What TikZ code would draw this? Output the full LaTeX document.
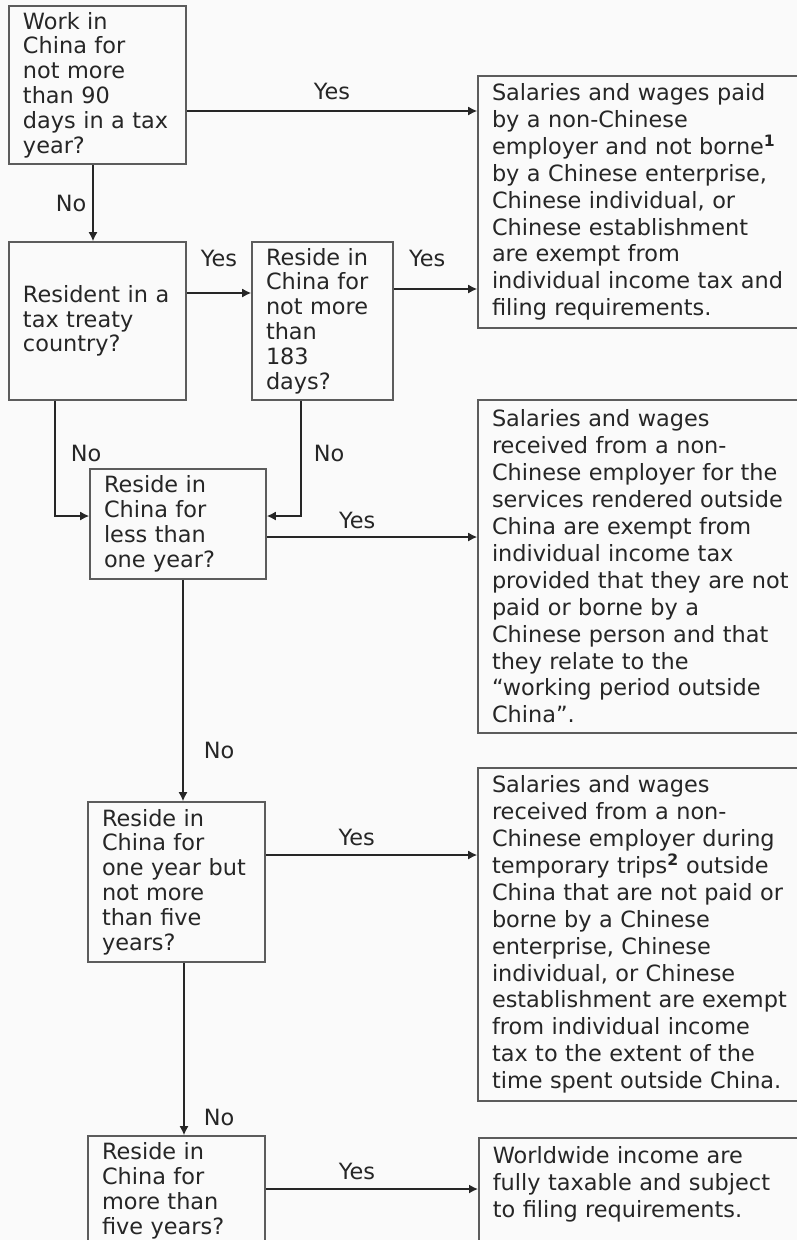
\documentclass[tikz,border=0pt]{standalone}
\usepackage{fontspec}
\setmainfont{DejaVu Sans}
\usetikzlibrary{arrows.meta}
\definecolor{inkgray}{HTML}{262626}
\definecolor{boxgray}{HTML}{5C5C5C}

\begin{document}
\begin{tikzpicture}[x=1pt, y=-1pt,
  every node/.style={text=inkgray},
  query/.style={draw=boxgray, line width=1.6pt, inner xsep=14pt, inner ysep=0pt,
    align=left, font=\fontsize{22.4}{24.8}\selectfont},
  outcome/.style={draw=boxgray, line width=1.6pt, inner xsep=14pt, inner ysep=0pt,
    align=left, text width=312pt, font=\fontsize{22.4}{26.9}\selectfont},
  answer/.style={inner sep=0pt, font=\fontsize{22.4}{24.8}\selectfont},
  flow/.style={draw=inkgray, line width=1.5pt, -{Latex[length=9pt,width=9pt]}}]
  \path[use as bounding box, fill=black!2] (0,0) rectangle (797,1240);

  \node[query, text width=149pt, minimum height=158pt] (work90) at (97.5,85)
    {Work in\\China for\\not more\\than 90\\days in a tax\\year?};
  \node[query, text width=149pt, minimum height=158pt] (treaty) at (97.5,321)
    {Resident in a\\tax treaty\\country?};
  \node[query, text width=113pt, minimum height=158pt] (stay183) at (322.5,321)
    {Reside in\\China for\\not more\\than\\183\\days?};
  \node[query, text width=148pt, minimum height=110pt] (lessone) at (178,524)
    {Reside in\\China for\\less than\\one year?};
  \node[query, text width=149pt, minimum height=160pt] (uptofive) at (176.5,882)
    {Reside in\\China for\\one year but\\not more\\than five\\years?};
  \node[query, text width=149pt, minimum height=110pt] (overfive) at (176.5,1191)
    {Reside in\\China for\\more than\\five years?};

  \node[outcome, minimum height=252pt] (exemptfull) at (648,202)
    {Salaries and wages paid\\by a non-Chinese\\employer and not borne\textsuperscript{\textbf{1}}\\by a Chinese enterprise,\\Chinese individual, or\\Chinese establishment\\are exempt from\\individual income tax and\\filing requirements.};
  \node[outcome, minimum height=333pt] (exemptrendered) at (648,566.5)
    {Salaries and wages\\received from a non-\\Chinese employer for the\\services rendered outside\\China are exempt from\\individual income tax\\provided that they are not\\paid or borne by a\\Chinese person and that\\they relate to the\\“working period outside\\China”.};
  \node[outcome, minimum height=333pt] (exempttrips) at (648,934.5)
    {Salaries and wages\\received from a non-\\Chinese employer during\\temporary trips\textsuperscript{\textbf{2}} outside\\China that are not paid or\\borne by a Chinese\\enterprise, Chinese\\individual, or Chinese\\establishment are exempt\\from individual income\\tax to the extent of the\\time spent outside China.};
  \node[outcome, inner ysep=9pt, anchor=north west] (worldwide) at (478,1137)
    {\parbox[t][130pt][t]{312pt}{\raggedright Worldwide income are\\fully taxable and subject\\to filing requirements.}};

  \draw[flow] ([yshift=-26pt]work90.east) -- ([yshift=-26pt]work90.east -| exemptfull.west)
    node[answer, midway, above=10pt] {Yes};
  \draw[flow] ([xshift=-4.5pt]work90.south) -- ([xshift=-4.5pt]work90.south |- treaty.north)
    node[answer, midway, left=6pt] {No};
  \draw[flow] ([yshift=28pt]treaty.east) -- ([yshift=28pt]treaty.east -| stay183.west)
    node[answer, midway, above=25pt] {Yes};
  \draw[flow] ([yshift=32pt]stay183.east) -- ([yshift=32pt]stay183.east -| exemptfull.west)
    node[answer, pos=0.4, above=21pt] {Yes};
  \draw[flow] ([xshift=-42.5pt]treaty.south) |- ([yshift=8pt]lessone.west)
    node[answer, pos=0.23, right=15pt] {No};
  \draw[flow] ([xshift=-21.5pt]stay183.south) |- ([yshift=8pt]lessone.east)
    node[answer, pos=0.23, right=12pt] {No};
  \draw[flow] ([yshift=-13pt]lessone.east) -- ([yshift=-13pt]lessone.east -| exemptrendered.west)
    node[answer, pos=0.43, above=7pt] {Yes};
  \draw[flow] ([xshift=5pt]lessone.south) -- ([xshift=5pt]lessone.south |- uptofive.north)
    node[answer, pos=0.77, right=20pt] {No};
  \draw[flow] ([yshift=27pt]uptofive.east) -- ([yshift=27pt]uptofive.east -| exempttrips.west)
    node[answer, pos=0.43, above=8pt] {Yes};
  \draw[flow] ([xshift=7.5pt]uptofive.south) -- ([xshift=7.5pt]uptofive.south |- overfive.north)
    node[answer, pos=0.9, right=19pt] {No};
  \draw[flow] ([yshift=2pt]overfive.east) -- ([yshift=2pt]overfive.east -| worldwide.west)
    node[answer, pos=0.43, above=8pt] {Yes};
\end{tikzpicture}
\end{document}
